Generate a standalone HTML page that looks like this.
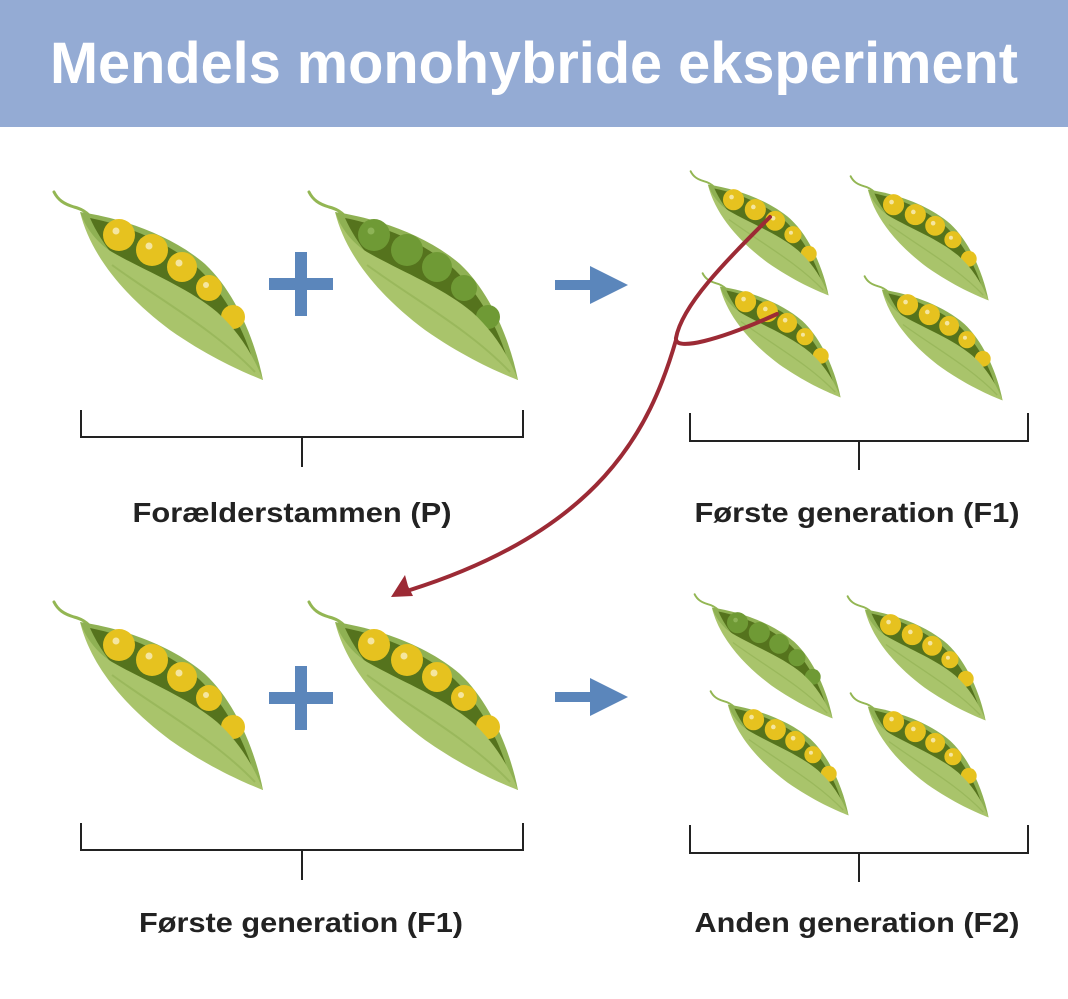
<!DOCTYPE html>
<html><head><meta charset="utf-8"><style>
body{margin:0;background:#fff;width:1068px;height:999px;overflow:hidden}
svg{display:block}
</style></head><body>
<svg width="1068" height="999" viewBox="0 0 1068 999" xmlns="http://www.w3.org/2000/svg">
<defs>
<g id="podbase">
<path d="M4,2 C8,10 14,14 24,17 C32,19 36,22 40,26" fill="none" stroke="#93b653" stroke-width="3" stroke-linecap="round"/>
<path d="M30,22 C70,28 120,44 155,74 C185,102 205,150 213,190 C150,160 60,110 30,22 Z" fill="#8fb153"/>
<path d="M40,28 C75,35 120,52 150,80 C175,105 195,140 205,178 C150,140 70,95 40,28 Z" fill="#55731d"/>
</g>
<g id="podfront">
<path d="M30,22 C42,70 80,110 120,140 C160,168 195,183 213,190 C202,162 187,140 167,122 C137,97 97,82 62,62 C46,52 36,38 30,22 Z" fill="#a9c46b"/>
<path d="M62,75 C110,110 165,140 205,182" fill="none" stroke="#9ab85c" stroke-width="2"/>
</g>
<g id="podY">
<use href="#podbase"/>
<circle cx="69" cy="45" r="16" fill="#e6c21f"/><circle cx="66" cy="41" r="3.5" fill="#f5e6a0"/>
<circle cx="102" cy="60" r="16" fill="#e6c21f"/><circle cx="99" cy="56" r="3.5" fill="#f5e6a0"/>
<circle cx="132" cy="77" r="15" fill="#e6c21f"/><circle cx="129" cy="73" r="3.5" fill="#f5e6a0"/>
<circle cx="159" cy="98" r="13" fill="#e6c21f"/><circle cx="156" cy="95" r="3" fill="#f5e6a0"/>
<circle cx="183" cy="127" r="12" fill="#e6c21f"/>
<use href="#podfront"/>
</g>
<g id="podG">
<use href="#podbase"/>
<circle cx="69" cy="45" r="16" fill="#6f9a35"/><circle cx="66" cy="41" r="3.5" fill="#8db356"/>
<circle cx="102" cy="60" r="16" fill="#6f9a35"/>
<circle cx="132" cy="77" r="15" fill="#6f9a35"/>
<circle cx="159" cy="98" r="13" fill="#6f9a35"/>
<circle cx="183" cy="127" r="12" fill="#6f9a35"/>
<use href="#podfront"/>
</g>
<g id="plus"><rect x="-32" y="-6" width="64" height="12" fill="#5b86bb"/><rect x="-6" y="-32" width="12" height="64" fill="#5b86bb"/></g>
<g id="arrow"><rect x="0" y="-5" width="38" height="10" fill="#5b86bb"/><path d="M35,-19 L73,0 L35,19 Z" fill="#5b86bb"/></g>
</defs>
<rect x="0" y="0" width="1068" height="127" fill="#94abd4"/>
<text x="534" y="83" text-anchor="middle" font-family="Liberation Sans, sans-serif" font-weight="bold" font-size="58" fill="#fff" textLength="968" lengthAdjust="spacingAndGlyphs">Mendels monohybride eksperiment</text>

<use href="#podY" transform="translate(50,190)"/>
<use href="#podG" transform="translate(305,190)"/>
<use href="#podY" transform="translate(50,600)"/>
<use href="#podY" transform="translate(305,600)"/>

<use href="#podY" transform="translate(688,170) scale(0.66)"/>
<use href="#podY" transform="translate(848,175) scale(0.66)"/>
<use href="#podY" transform="translate(700,272) scale(0.66)"/>
<use href="#podY" transform="translate(862,275) scale(0.66)"/>

<use href="#podG" transform="translate(692,593) scale(0.66)"/>
<use href="#podY" transform="translate(845,595) scale(0.66)"/>
<use href="#podY" transform="translate(708,690) scale(0.66)"/>
<use href="#podY" transform="translate(848,692) scale(0.66)"/>

<use href="#plus" transform="translate(301,284)"/>
<use href="#plus" transform="translate(301,698)"/>
<use href="#arrow" transform="translate(555,285)"/>
<use href="#arrow" transform="translate(555,697)"/>

<g stroke="#222" stroke-width="2" fill="none">
<path d="M81,410 V437 H523 V410 M302,437 V467"/>
<path d="M690,413 V441 H1028 V413 M859,441 V470"/>
<path d="M81,823 V850 H523 V823 M302,850 V880"/>
<path d="M690,825 V853 H1028 V825 M859,853 V882"/>
</g>
<g font-family="Liberation Sans, sans-serif" font-weight="bold" font-size="28" fill="#222" text-anchor="middle">
<text x="292" y="522" textLength="319" lengthAdjust="spacingAndGlyphs">Forælderstammen (P)</text>
<text x="857" y="522" textLength="325" lengthAdjust="spacingAndGlyphs">Første generation (F1)</text>
<text x="301" y="932" textLength="324" lengthAdjust="spacingAndGlyphs">Første generation (F1)</text>
<text x="857" y="932" textLength="325" lengthAdjust="spacingAndGlyphs">Anden generation (F2)</text>
</g>
<g stroke="#9c2a35" stroke-width="4" fill="none" stroke-linecap="round">
<path d="M770,217 C725,262 682,305 676,338 C674,352 720,340 777,314"/>
<path d="M676,340 C650,430 600,530 410,590"/>
</g>
<path d="M391,597 L405,575 L408,586 L413,596 Z" fill="#9c2a35"/>
</svg>
</body></html>
